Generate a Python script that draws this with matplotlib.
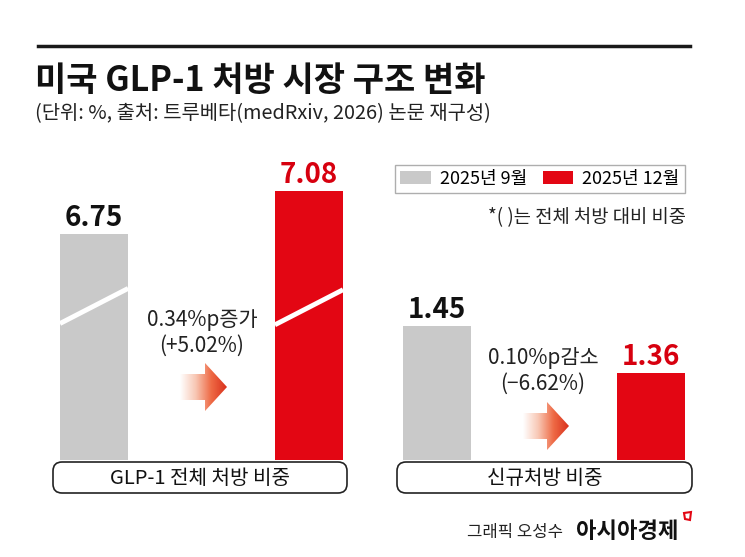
import matplotlib.pyplot as plt
import numpy as np
from matplotlib.patches import FancyBboxPatch, Polygon
from matplotlib.colors import LinearSegmentedColormap

plt.rcParams['font.family'] = ['Noto Sans CJK KR', 'DejaVu Sans']

# 데이터
periods = ['2025년 9월', '2025년 12월']
total_share = [6.75, 7.08]      # GLP-1 전체 처방 비중
new_share = [1.45, 1.36]        # 신규처방 비중
panel_names = ['GLP-1 전체 처방 비중', '신규처방 비중']
change_lines = [['0.34%p증가', '(+5.02%)'], ['0.10%p감소', '(\u22126.62%)']]

title = '미국 GLP-1 처방 시장 구조 변화'
subtitle = '(단위: %, 출처: 트루베타(medRxiv, 2026) 논문 재구성)'
note = '*( )는 전체 처방 대비 비중'

GRAY = '#c9c9c9'
RED = '#e30613'
W, H = 745, 557

fig = plt.figure(figsize=(W / 100, H / 100), dpi=100)
fig.patch.set_facecolor('white')


def ax_rect(x0, x1, y_top, y_base):
    return [x0 / W, 1 - y_base / H, (x1 - x0) / W, (y_base - y_top) / H]


# 막대 영역 (축 하단은 잘려 있음)
ax1 = fig.add_axes(ax_rect(53, 347, 150, 460))
ax2 = fig.add_axes(ax_rect(397, 692, 150, 460))
ax1.set_ylim(5.01, 7.395)
ax1.set_xlim(-0.191, 1.177)
ax2.set_ylim(1.193, 1.787)
ax2.set_xlim(-0.187, 1.192)

bw = 0.317
bars1 = ax1.bar([0, 1], total_share, width=bw, color=[GRAY, RED], zorder=2)
bars2 = ax2.bar([0, 1], new_share, width=bw, color=[GRAY, RED], zorder=2)
bars2[0].set_label(periods[0])
bars2[1].set_label(periods[1])

for ax, vals in [(ax1, total_share), (ax2, new_share)]:
    ax.axis('off')
    for i, v in enumerate(vals):
        ax.annotate(f'{v:.2f}', (i, v), xytext=(0, 6), textcoords='offset points',
                    ha='center', va='baseline', fontsize=20, fontweight='bold',
                    color='#111111' if i == 0 else '#d7000f')

# 흰 사선 (축 생략 표시)
for i, b in enumerate([6.06, 6.05]):
    ax1.plot([i - bw / 2, i + bw / 2], [b, b + 0.27], color='white', lw=3.5,
             solid_capstyle='butt', zorder=3)

# 오버레이 (픽셀 좌표)
ov = fig.add_axes([0, 0, 1, 1], zorder=5)
ov.set_xlim(0, W)
ov.set_ylim(H, 0)
ov.axis('off')

ov.plot([38, 690], [46, 46], color='#1a1a1a', lw=2.5)
ov.text(35, 80, title, fontsize=24.5, fontweight='bold', va='center', ha='left', color='#111111')
ov.text(35, 114, subtitle, fontsize=14.3, va='center', ha='left', color='#222222')

# 하단 라벨 박스
for (x0, x1), name in zip([(53, 347), (397, 692)], panel_names):
    box = FancyBboxPatch((x0, 462), x1 - x0, 31, boxstyle='round,pad=0,rounding_size=9',
                         facecolor='white', edgecolor='#222222', lw=1.2)
    ov.add_patch(box)
    ov.text((x0 + x1) / 2, 478, name, fontsize=14.5, ha='center', va='center', color='#111111')

# 변화 텍스트
for (cx, cy), lines in zip([(202, 320), (543, 358)], change_lines):
    ov.text(cx, cy, lines[0], fontsize=15, ha='center', va='center', color='#222222')
    ov.text(cx, cy + 26, lines[1], fontsize=15, ha='center', va='center', color='#222222')

# 그라데이션 화살표
cmap = LinearSegmentedColormap.from_list('arr', ['#ffffff', '#f8c7b4', '#ee6a45', '#d9301c'])
grad = np.linspace(0, 1, 256).reshape(1, -1)
for x0, xh, x1, cy in [(180, 205, 227, 387), (523, 547, 569, 426)]:
    pts = [(x0, cy - 13), (xh, cy - 13), (xh, cy - 24), (x1, cy), (xh, cy + 24),
           (xh, cy + 13), (x0, cy + 13)]
    poly = Polygon(pts, closed=True, facecolor='none', edgecolor='none')
    ov.add_patch(poly)
    im = ov.imshow(grad, cmap=cmap, extent=[x0, x1, cy + 24, cy - 24], aspect='auto')
    im.set_clip_path(poly)
ov.set_xlim(0, W)
ov.set_ylim(H, 0)

# 범례
leg = fig.legend(handles=[bars2[0], bars2[1]], labels=periods, ncol=2,
                 loc='center', bbox_to_anchor=(395 / W, 1 - 195 / H, 290 / W, 32 / H),
                 mode='expand', frameon=True, fancybox=False, edgecolor='#9a9a9a',
                 fontsize=13, handlelength=1.7, handleheight=0.7, handletextpad=0.5,
                 borderpad=0.3, columnspacing=1.0, borderaxespad=0)
leg.get_frame().set_linewidth(1.0)

ov.text(686, 218, note, fontsize=13.5, ha='right', va='center', color='#222222')

# 하단 크레딧
ov.text(563, 532, '그래픽 오성수', fontsize=12, ha='right', va='center', color='#222222')
ov.text(576, 531, '아시아경제', fontsize=16, fontweight='heavy', ha='left', va='center', color='#111111')
ov.add_patch(Polygon([(684, 513), (691, 512), (690, 520), (685, 519)], closed=True,
                     facecolor='white', edgecolor=RED, lw=1.5))

fig.savefig('out.png', dpi=100, facecolor='white')
